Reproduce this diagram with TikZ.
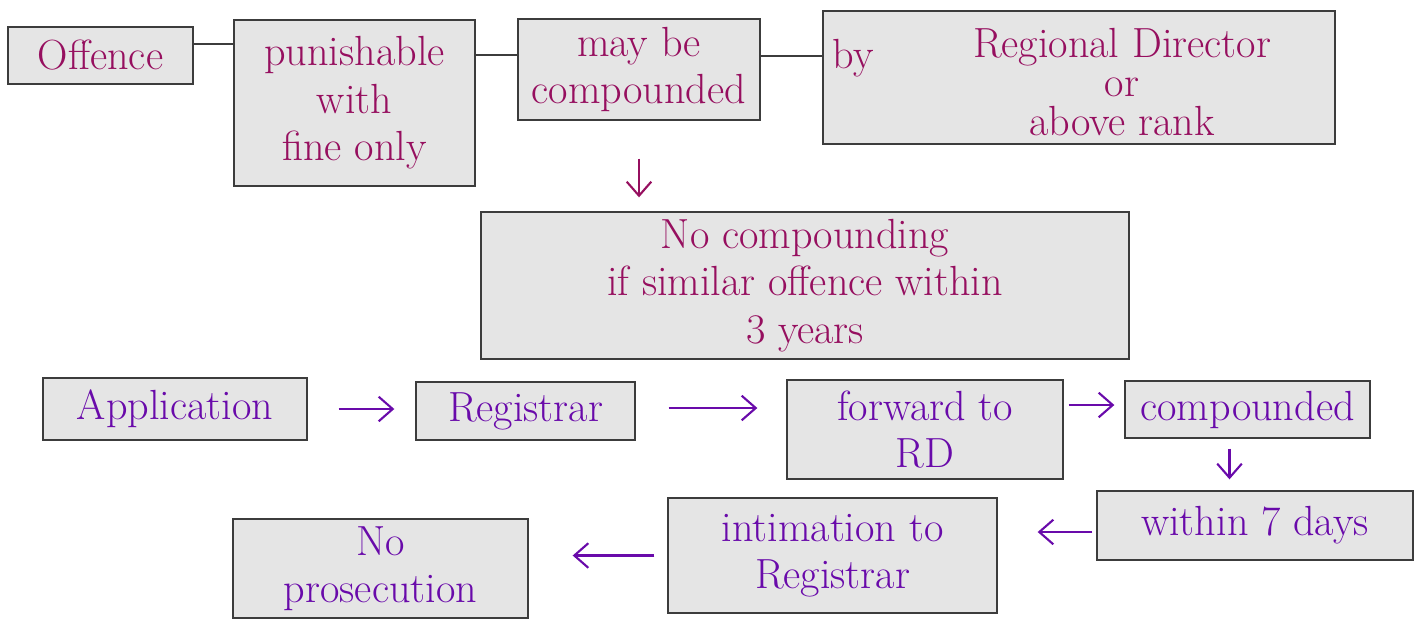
\documentclass[tikz,border=0pt]{standalone}
\usetikzlibrary{arrows.meta}

\definecolor{plumink}{RGB}{150,15,95}
\definecolor{violetink}{RGB}{105,10,170}
\definecolor{boxgray}{RGB}{229,229,229}
\definecolor{edgegray}{RGB}{60,60,60}

\tikzset{
	box/.style={draw=edgegray, fill=boxgray, line width=0.8pt, inner sep=2pt, align=center, font=\fontsize{24}{27}\selectfont},
	topbox/.style={box, text=plumink},
	lowbox/.style={box, text=violetink},
	ink/.style={align=center, font=\fontsize{24}{27}\selectfont, text=plumink},
	link/.style={draw=edgegray, line width=0.8pt},
	flow/.style={->, line width=1.2pt},
}

\begin{document}
\begin{tikzpicture}[x=0.02cm, y=-0.02cm, >={Straight Barb[length=8pt,width=14pt]}]
			\useasboundingbox (0,0) rectangle (1415,623);
			
			% top row
			\node[topbox, minimum width=3.70cm, minimum height=1.14cm] (offence) at (100.5,55.5) {Offence};
			\node[topbox, minimum width=4.82cm, minimum height=3.32cm] (punish) at (354.5,103) {punishable\\with\\fine only};
			\node[topbox, minimum width=4.84cm, minimum height=2.02cm] (maybe) at (639,69.5) {may be\\compounded};
			\node[topbox, minimum width=10.24cm, minimum height=2.66cm] (byrd) at (1079,77.5) {};
			\node[ink] (by) at (853,58) {by};
			\node[ink, font=\fontsize{24}{22}\selectfont] (rdtext) at (1122,82) {Regional Director\\or\\above rank};
			
			\node[topbox, minimum width=12.96cm, minimum height=2.94cm] (nocomp) at (805,285.5) {No compounding\\if similar offence within\\3 years};
			
			\draw[link] ([yshift=0.23cm]offence.east) -- ([yshift=0.23cm]offence.east -| punish.west);
			\draw[link] ([yshift=0.29cm]maybe.west) -- ([yshift=0.29cm]maybe.west -| punish.east);
			\draw[link] ([yshift=0.27cm]maybe.east) -- ([yshift=0.27cm]maybe.east -| byrd.west);
			\draw[flow, plumink, shorten <=0.76cm, shorten >=0.28cm] (maybe.south) -- (maybe.south |- nocomp.north);
			
			% steps
			\node[lowbox, minimum width=5.28cm, minimum height=1.24cm] (appl) at (175,409) {Application};
			\node[lowbox, minimum width=4.38cm, minimum height=1.16cm] (regis) at (525.5,411) {Registrar};
			\node[lowbox, minimum width=5.52cm, minimum height=1.98cm] (fwd) at (925,429.5) {forward to\\RD};
			\node[lowbox, minimum width=4.90cm, minimum height=1.14cm] (comp) at (1247.5,409.5) {compounded};
			\node[lowbox, minimum width=6.32cm, minimum height=1.38cm] (within) at (1255,525.5) {within 7 days};
			\node[lowbox, minimum width=6.58cm, minimum height=2.30cm] (intim) at (832.5,555.5) {intimation to\\Registrar};
			\node[lowbox, minimum width=5.90cm, minimum height=1.98cm] (nopros) at (380.5,568.5) {No\\prosecution};
			
			\draw[flow, violetink, shorten <=0.62cm, shorten >=0.42cm] (appl.east) -- (appl.east -| regis.west);
			\draw[flow, violetink, shorten <=0.66cm, shorten >=0.58cm] ([yshift=0.06cm]regis.east) -- ([yshift=0.06cm]regis.east -| fwd.west);
			\draw[flow, violetink, shorten <=0.10cm, shorten >=0.20cm] ([yshift=0.09cm]comp.west -| fwd.east) -- ([yshift=0.09cm]comp.west);
			\draw[flow, violetink, shorten <=0.20cm, shorten >=0.22cm] ([xshift=-0.36cm]comp.south) -- ([xshift=-0.36cm]comp.south |- within.north);
			\draw[flow, violetink, shorten <=0.08cm, shorten >=0.80cm] ([yshift=-0.13cm]within.west) -- ([yshift=-0.13cm]within.west -| intim.east);
			\draw[flow, violetink, shorten <=0.26cm, shorten >=0.88cm] (intim.west) -- (intim.west -| nopros.east);
		\end{tikzpicture}
\end{document}
